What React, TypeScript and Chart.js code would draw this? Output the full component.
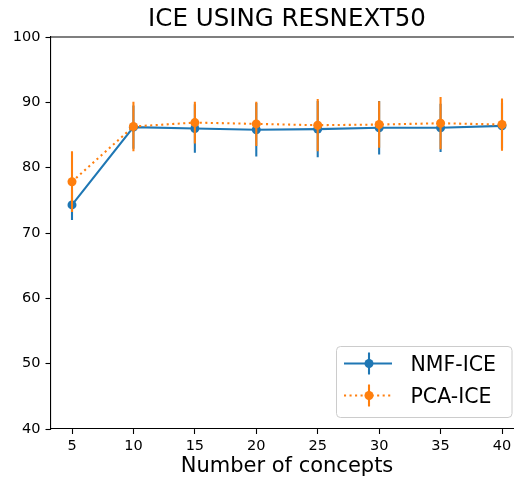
import React, { useEffect, useRef } from "react";
import { Chart, registerables } from "chart.js";

Chart.register(...registerables);

// ---- data ----
const concepts = [5, 10, 15, 20, 25, 30, 35, 40];
const nmfMean = [74.3, 86.2, 86.0, 85.8, 85.9, 86.1, 86.1, 86.4];
const nmfErr = [2.3, 3.3, 3.7, 4.1, 4.3, 4.1, 3.7, 3.5];
const pcaMean = [77.85, 86.3, 86.9, 86.7, 86.5, 86.6, 86.8, 86.6];
const pcaErr = [4.65, 3.8, 3.2, 3.4, 4.0, 3.55, 4.0, 4.0];
const xTickValues = [5, 10, 15, 20, 25, 30, 35, 40];
const yTickValues = [40, 50, 60, 70, 80, 90, 100];
const seriesLabels = ["NMF-ICE", "PCA-ICE"];
const titleText = "ICE USING RESNEXT50";
const xAxisTitle = "Number of concepts";

const BLUE = "#1f77b4";
const ORANGE = "#ff7f0e";
const FONT = "'DejaVu Sans', sans-serif";
const LW = 2.08;
const DOT_DASH = [2.08, 3.44];

const errorArrays = [nmfErr, pcaErr];
const colors = [BLUE, ORANGE];
const dashes = [[], DOT_DASH];

const errorBarPlugin = {
  id: "errorBars",
  beforeDatasetDraw(chart: any, args: any) {
    const i = args.index;
    const errs = errorArrays[i];
    const ds = chart.data.datasets[i];
    const xs = chart.scales.x;
    const ys = chart.scales.y;
    const ctx = chart.ctx;
    const ca = chart.chartArea;
    ctx.save();
    ctx.beginPath();
    ctx.rect(ca.left, ca.top, ca.right - ca.left, ca.bottom - ca.top);
    ctx.clip();
    ctx.strokeStyle = colors[i];
    ctx.lineWidth = LW;
    ctx.setLineDash([]);
    ds.data.forEach((p: any, k: number) => {
      const px = xs.getPixelForValue(p.x);
      const y1 = ys.getPixelForValue(p.y - errs[k]);
      const y2 = ys.getPixelForValue(p.y + errs[k]);
      ctx.beginPath();
      ctx.moveTo(px, y1);
      ctx.lineTo(px, y2);
      ctx.stroke();
    });
    ctx.restore();
  },
};

const framePlugin = {
  id: "frame",
  afterDraw(chart: any) {
    const ctx = chart.ctx;
    const ca = chart.chartArea;
    ctx.save();
    ctx.strokeStyle = "#000";
    ctx.lineWidth = 1.1;
    ctx.beginPath();
    ctx.moveTo(ca.left, ca.top);
    ctx.lineTo(ca.right, ca.top);
    ctx.stroke();
    ctx.restore();
  },
};

const legendPlugin = {
  id: "mplLegend",
  afterDraw(chart: any) {
    const ctx = chart.ctx;
    const bx = 336.5, by = 346.5, bw = 175.5, bh = 71, r = 4;
    ctx.save();
    ctx.beginPath();
    ctx.moveTo(bx + r, by);
    ctx.lineTo(bx + bw - r, by);
    ctx.quadraticCurveTo(bx + bw, by, bx + bw, by + r);
    ctx.lineTo(bx + bw, by + bh - r);
    ctx.quadraticCurveTo(bx + bw, by + bh, bx + bw - r, by + bh);
    ctx.lineTo(bx + r, by + bh);
    ctx.quadraticCurveTo(bx, by + bh, bx, by + bh - r);
    ctx.lineTo(bx, by + r);
    ctx.quadraticCurveTo(bx, by, bx + r, by);
    ctx.closePath();
    ctx.fillStyle = "rgba(255,255,255,0.8)";
    ctx.fill();
    ctx.strokeStyle = "#cccccc";
    ctx.lineWidth = 1;
    ctx.stroke();
    const rowsY = [363.5, 395.5];
    seriesLabels.forEach((label, i) => {
      const y = rowsY[i];
      ctx.strokeStyle = colors[i];
      ctx.lineWidth = LW;
      ctx.setLineDash(dashes[i]);
      ctx.beginPath();
      ctx.moveTo(344, y);
      ctx.lineTo(392, y);
      ctx.stroke();
      ctx.setLineDash([]);
      ctx.beginPath();
      ctx.moveTo(369, y - 11);
      ctx.lineTo(369, y + 11);
      ctx.stroke();
      ctx.fillStyle = colors[i];
      ctx.beginPath();
      ctx.arc(369, y, 4.5, 0, Math.PI * 2);
      ctx.fill();
      ctx.fillStyle = "#000";
      ctx.font = `20.5px ${FONT}`;
      ctx.textBaseline = "alphabetic";
      ctx.textAlign = "left";
      ctx.fillText(label, 410.5, y + 7.5);
    });
    ctx.restore();
  },
};

export default function App() {
  const ref = useRef<HTMLCanvasElement | null>(null);
  useEffect(() => {
    if (!ref.current) return;
    const mk = (ys: number[]) => concepts.map((x, k) => ({ x, y: ys[k] }));
    const chart = new Chart(ref.current, {
      type: "line",
      data: {
        datasets: [
          {
            label: seriesLabels[0],
            data: mk(nmfMean),
            borderColor: BLUE,
            backgroundColor: BLUE,
            borderWidth: LW,
            pointRadius: 4.5,
            pointBorderWidth: 0,
            pointBackgroundColor: BLUE,
            fill: false,
            tension: 0,
            order: 1,
          },
          {
            label: seriesLabels[1],
            data: mk(pcaMean),
            borderColor: ORANGE,
            backgroundColor: ORANGE,
            borderWidth: LW,
            borderDash: DOT_DASH,
            borderCapStyle: "butt",
            pointRadius: 4.5,
            pointBorderWidth: 0,
            pointBackgroundColor: ORANGE,
            fill: false,
            tension: 0,
            order: 0,
          },
        ],
      },
      options: {
        animation: false,
        responsive: false,
        devicePixelRatio: 1,
        layout: { padding: 0 },
        scales: {
          x: {
            type: "linear",
            min: 3.25,
            max: 41.75,
            afterFit: (s: any) => {
              s.height = 52;
            },
            afterBuildTicks: (s: any) => {
              s.ticks = xTickValues.map((v) => ({ value: v }));
            },
            grid: {
              display: true,
              drawOnChartArea: false,
              drawTicks: true,
              tickLength: 5,
              tickColor: "#000",
              tickWidth: 1.1,
            },
            border: { display: true, color: "#000", width: 1.1 },
            ticks: {
              color: "#000",
              font: { family: FONT, size: 14.5 },
              padding: 4,
              maxRotation: 0,
              autoSkip: false,
            },
            title: {
              display: true,
              text: xAxisTitle,
              color: "#000",
              font: { family: FONT, size: 21 },
              padding: { top: 0, bottom: 2 },
            },
          },
          y: {
            type: "linear",
            min: 40,
            max: 100,
            afterFit: (s: any) => {
              s.width = 50.5;
            },
            afterBuildTicks: (s: any) => {
              s.ticks = yTickValues.map((v) => ({ value: v }));
            },
            grid: {
              display: true,
              drawOnChartArea: false,
              drawTicks: true,
              tickLength: 5,
              tickColor: "#000",
              tickWidth: 1.1,
            },
            border: { display: true, color: "#000", width: 1.1 },
            ticks: {
              color: "#000",
              font: { family: FONT, size: 14.5 },
              padding: 5,
            },
          },
        },
        plugins: {
          legend: { display: false },
          tooltip: { enabled: false },
          title: {
            display: true,
            text: titleText,
            fullSize: false,
            color: "#000",
            font: { family: FONT, size: 24.5, weight: "normal", lineHeight: 1.2 },
            padding: { top: 5.2, bottom: 2.4 },
          },
        },
      },
      plugins: [errorBarPlugin, framePlugin, legendPlugin],
    } as any);
    return () => chart.destroy();
  }, []);
  return (
    <div
      style={{
        position: "absolute",
        left: 0,
        top: 0,
        width: 514,
        height: 481,
        overflow: "hidden",
        background: "#fff",
      }}
    >
      <div style={{ width: 528, height: 481, position: "relative" }}>
        <canvas
          ref={ref}
          width={528}
          height={481}
          style={{ display: "block", width: 528, height: 481 }}
        />
      </div>
    </div>
  );
}
